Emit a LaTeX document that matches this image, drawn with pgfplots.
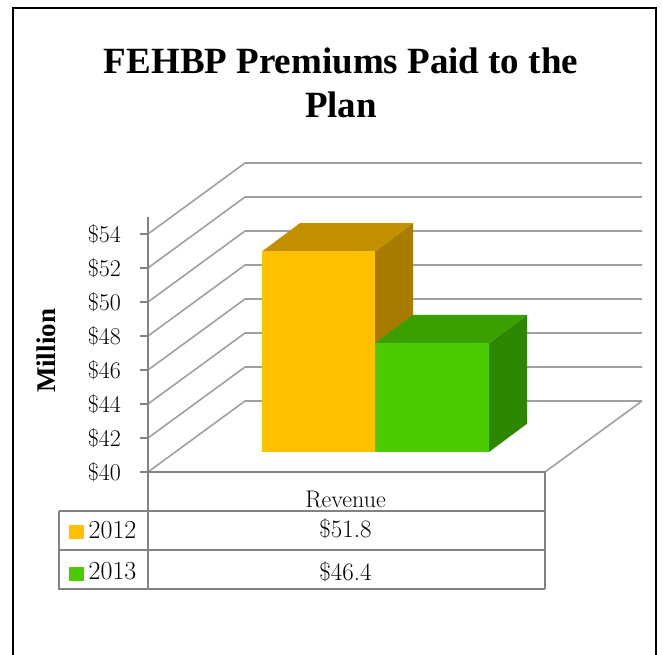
\documentclass[border=0pt]{standalone}
\usepackage{pgfplots}
\pgfplotsset{compat=1.18}
\usepackage{pgfplotstable}
\usepackage{fontspec}
\newfontfamily\timesfont{Liberation Serif}

\definecolor{yfront}{RGB}{255,192,0}
\definecolor{ytop}{RGB}{196,144,0}
\definecolor{yside}{RGB}{168,124,0}
\definecolor{gfront}{RGB}{76,204,0}
\definecolor{gtop}{RGB}{58,160,0}
\definecolor{gside}{RGB}{46,135,0}
\definecolor{gridc}{RGB}{160,160,160}
\definecolor{tablec}{RGB}{130,130,130}

% data: FEHBP premiums paid (million $)
\pgfplotstableread{
year value
2012 51.8
2013 46.4
}\premiums

% unit square corners used to build the faces of each 3-D bar
\pgfplotstableread{
a b
0 0
1 0
1 1
0 1
}\corners

\pgfplotstablegetelem{0}{value}\of\premiums \let\vA\pgfplotsretval
\pgfplotstablegetelem{1}{value}\of\premiums \let\vB\pgfplotsretval

% #1 left x of front face, #2 width, #3 value, #4 front, #5 top, #6 side colour
\newcommand{\drawbox}[6]{%
  \addplot[fill=#6, draw=none, forget plot] table[x expr={#1+#2+38*\thisrow{b}},
     y expr={1.176+(#3-40)*\thisrow{a}+1.665*\thisrow{b}}] {\corners} -- cycle;
  \addplot[fill=#5, draw=none, forget plot] table[x expr={#1+#2*\thisrow{a}+38*\thisrow{b}},
     y expr={1.176+(#3-40)+1.665*\thisrow{b}}] {\corners} -- cycle;
  \addplot[fill=#4, draw=none, forget plot] table[x expr={#1+#2*\thisrow{a}},
     y expr={1.176+(#3-40)*\thisrow{b}}] {\corners} -- cycle;
}

\begin{document}
\begin{tikzpicture}
\begin{axis}[
  scale only axis, width=397pt, height=238pt,
  xmin=148, xmax=545, ymin=0, ymax=14,
  clip=false,
  axis line style={draw=none},
  ytick={0,2,...,14},
  yticklabels={\$40,\$42,\$44,\$46,\$48,\$50,\$52,\$54},
  ytick pos=left,
  tick align=outside,
  major tick length=8pt,
  ytick style={draw=tablec, line width=1.5pt},
  yticklabel style={font=\fontsize{24}{28}\selectfont, inner sep=0pt, anchor=east, xshift=-19pt},
  xtick={345.5}, xticklabels={Revenue}, xtick style={draw=none},
  xticklabel style={font=\fontsize{24}{28}\selectfont, anchor=base, inner sep=0pt, yshift=-27pt},
  title={FEHBP Premiums Paid to the\\Plan},
  title style={at={(axis cs:341,24.618)}, anchor=north, inner sep=0pt, align=center,
     font=\timesfont\bfseries\fontsize{37}{44}\selectfont},
  ylabel={Million},
  ylabel style={at={(axis cs:46,7.118)}, anchor=center, rotate=0, inner sep=0pt,
     font=\timesfont\bfseries\fontsize{27}{30}\selectfont},
  legend style={at={(axis cs:69.3,-2.876)}, anchor=north west, draw=none, fill=none,
     inner sep=0pt, outer sep=0pt, font=\fontsize{26}{30}\selectfont,
     row sep=23pt, column sep=5.6pt, nodes={inner sep=0pt}},
  legend cell align=left,
  legend image code/.code={\fill[#1] (0pt,-8.35pt) rectangle (13.4pt,4.95pt);},
]
% outer frame
\addplot[black, line width=2pt, forget plot] coordinates {(12.7,-12) (12.7,27.265) (656,27.265) (656,-12)};
% side-wall and back-wall gridlines
\addplot[gridc, line width=1.6pt, forget plot] coordinates {(148,0) (245,4.176) (642,4.176)};
\addplot[gridc, line width=1.6pt, forget plot] coordinates {(148,2) (245,6.176) (642,6.176)};
\addplot[gridc, line width=1.6pt, forget plot] coordinates {(148,4) (245,8.176) (642,8.176)};
\addplot[gridc, line width=1.6pt, forget plot] coordinates {(148,6) (245,10.176) (642,10.176)};
\addplot[gridc, line width=1.6pt, forget plot] coordinates {(148,8) (245,12.176) (642,12.176)};
\addplot[gridc, line width=1.6pt, forget plot] coordinates {(148,10) (245,14.176) (642,14.176)};
\addplot[gridc, line width=1.6pt, forget plot] coordinates {(148,12) (245,16.176) (642,16.176)};
\addplot[gridc, line width=1.6pt, forget plot] coordinates {(148,14) (245,18.176) (642,18.176)};
% floor right edge
\addplot[gridc, line width=1.6pt, forget plot] coordinates {(545,0) (642,4.176)};
% bars
\drawbox{262}{113}{\vA}{yfront}{ytop}{yside}
\drawbox{375}{114}{\vB}{gfront}{gtop}{gside}
% vertical axis line and data table
\addplot[tablec, line width=2pt, forget plot] coordinates {(148,15) (148,-6.882)};
\addplot[tablec, line width=2pt, forget plot] coordinates {(148,0) (545,0) (545,-6.882)};
\addplot[tablec, line width=2pt, forget plot] coordinates {(59,-2.294) (545,-2.294)};
\addplot[tablec, line width=2pt, forget plot] coordinates {(59,-4.588) (545,-4.588)};
\addplot[tablec, line width=2pt, forget plot] coordinates {(59,-2.294) (59,-6.882) (545,-6.882)};
% table values
\node[anchor=base, inner sep=0pt, font=\fontsize{25}{30}\selectfont] at (axis cs:345.5,-3.882) {\$\vA};
\node[anchor=base, inner sep=0pt, font=\fontsize{25}{30}\selectfont] at (axis cs:345.5,-6.353) {\$\vB};
% legend
\addlegendimage{yfront}
\addlegendentry{2012}
\addlegendimage{gfront}
\addlegendentry{2013}
\coordinate (bbA) at (axis cs:0,27.765);
\coordinate (bbB) at (axis cs:662,-10.706);
\end{axis}
\pgfresetboundingbox
\path[use as bounding box] (bbA) rectangle (bbB);
\end{tikzpicture}
\end{document}
